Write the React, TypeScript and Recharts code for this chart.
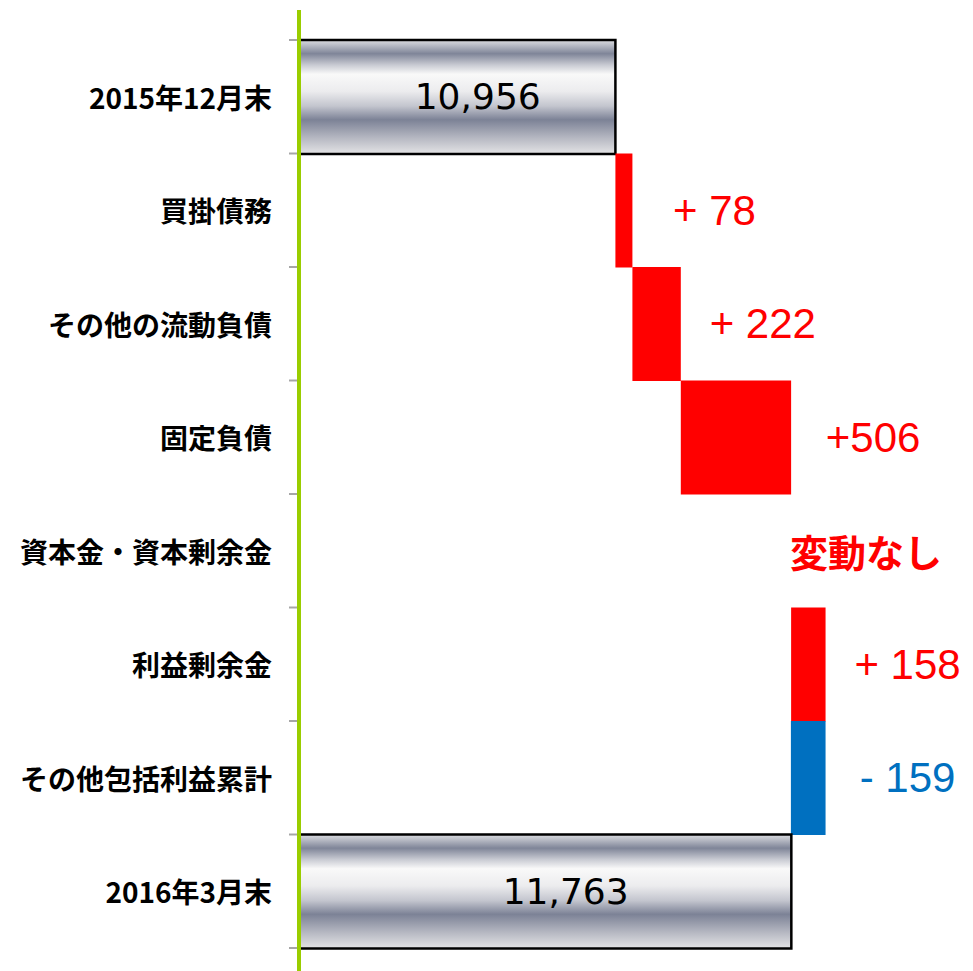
import { ComposedChart, Bar, Line, LabelList, XAxis, YAxis, Cell } from "recharts";

const categories = [
  "2015年12月末",
  "買掛債務",
  "その他の流動負債",
  "固定負債",
  "資本金・資本剰余金",
  "利益剰余金",
  "その他包括利益累計",
  "2016年3月末",
];
const startTotal = 10956;
const endTotal = 11763;
const totalLabels = ["10,956", "11,763"];
const changes = [78, 222, 506, 0, 158, -159];
const changeLabels = ["+ 78", "+ 222", "+506", "変動なし", "+ 158", "- 159"];

const X_DOMAIN = [9500, 12500];
const PLOT_H = 908;

// waterfall rows: [low, high] per category, labelAt = where the label hangs
const rows = (() => {
  const out = [];
  out.push({
    name: categories[0],
    range: [X_DOMAIN[0], startTotal],
    labelAt: (X_DOMAIN[0] + startTotal) / 2,
    kind: "total",
    label: totalLabels[0],
  });
  let level = startTotal;
  changes.forEach((d, i) => {
    const next = level + d;
    const lo = Math.min(level, next);
    const hi = Math.max(level, next);
    out.push({
      name: categories[i + 1],
      range: d === 0 ? null : [lo, hi],
      labelAt: hi,
      kind: d > 0 ? "up" : d < 0 ? "down" : "flat",
      label: changeLabels[i],
    });
    level = next;
  });
  out.push({
    name: categories[7],
    range: [X_DOMAIN[0], endTotal],
    labelAt: (X_DOMAIN[0] + endTotal) / 2,
    kind: "total",
    label: totalLabels[1],
  });
  return out;
})();

const fillFor = (kind) =>
  kind === "total" ? "url(#metal)" : kind === "down" ? "#0070c0" : "#ff0000";

function CategoryTick({ x, y, payload, index }) {
  const band = PLOT_H / categories.length;
  const axisX = x + 26;
  return (
    <g>
      <line x1={axisX - 9} x2={axisX} y1={y - band / 2} y2={y - band / 2} stroke="#a6a6a6" strokeWidth={2} />
      {index === categories.length - 1 && (
        <line x1={axisX - 9} x2={axisX} y1={y + band / 2} y2={y + band / 2} stroke="#a6a6a6" strokeWidth={2} />
      )}
      <text
        x={x}
        y={y}
        textAnchor="end"
        dominantBaseline="central"
        fontFamily="'Noto Sans CJK JP', sans-serif"
        fontWeight="bold"
        fontSize={28}
        fill="#000"
      >
        {payload.value}
      </text>
    </g>
  );
}

function RowLabel(props) {
  const { x, y, value } = props;
  const row = rows.find((r) => r.label === value);
  if (!row || x == null || y == null) return null;
  if (row.kind === "total") {
    return (
      <text x={x + 21} y={y} textAnchor="middle" dominantBaseline="central"
        fontFamily="'DejaVu Sans', sans-serif" fontSize={36} fill="#000">
        {row.label}
      </text>
    );
  }
  if (row.kind === "flat") {
    return (
      <text x={x + 75} y={y} textAnchor="middle" dominantBaseline="central"
        fontFamily="'Noto Sans CJK JP', sans-serif" fontWeight="bold" fontSize={38} fill="#ff0000">
        {row.label}
      </text>
    );
  }
  return (
    <text x={x + 82} y={y} textAnchor="middle" dominantBaseline="central"
      fontFamily="'Liberation Sans', Arial, sans-serif" fontSize={42}
      fill={row.kind === "down" ? "#0070c0" : "#ff0000"}>
      {row.label}
    </text>
  );
}

export default function App() {
  return (
    <div style={{ position: "relative", width: 965, height: 963 }}>
      <ComposedChart
        width={965}
        height={963}
        data={rows}
        layout="vertical"
        margin={{ top: 32, right: 21, bottom: 23, left: 0 }}
        barCategoryGap={0}
      >
        <defs>
          <linearGradient id="metal" x1="0" y1="0" x2="0" y2="1">
            <stop offset="0" stopColor="#dcdde1" />
            <stop offset="0.12" stopColor="#7f8598" />
            <stop offset="0.22" stopColor="#c9cbd3" />
            <stop offset="0.3" stopColor="#f9f9f9" />
            <stop offset="0.45" stopColor="#ececee" />
            <stop offset="0.58" stopColor="#c3c5ce" />
            <stop offset="0.7" stopColor="#7c8296" />
            <stop offset="0.86" stopColor="#b6b8c2" />
            <stop offset="1" stopColor="#e4e4e6" />
          </linearGradient>
        </defs>
        <XAxis type="number" domain={X_DOMAIN} hide allowDataOverflow />
        <YAxis
          type="category"
          dataKey="name"
          width={290}
          axisLine={false}
          tickLine={false}
          tickSize={8}
          tickMargin={18}
          interval={0}
          tick={CategoryTick}
        />
        <Bar dataKey="range" isAnimationActive={false}>
          {rows.map((r, i) => (
            <Cell
              key={i}
              fill={fillFor(r.kind)}
              stroke={r.kind === "total" ? "#000" : "none"}
              strokeWidth={r.kind === "total" ? 2.5 : 0}
            />
          ))}
        </Bar>
        <Line
          dataKey="labelAt"
          stroke="none"
          dot={false}
          activeDot={false}
          isAnimationActive={false}
        >
          <LabelList dataKey="label" content={RowLabel} />
        </Line>
      </ComposedChart>
      <div
        style={{
          position: "absolute",
          left: 289,
          top: 2,
          width: 4,
          height: 961,
          background: "#9acd00",
          pointerEvents: "none",
        }}
      />
    </div>
  );
}
